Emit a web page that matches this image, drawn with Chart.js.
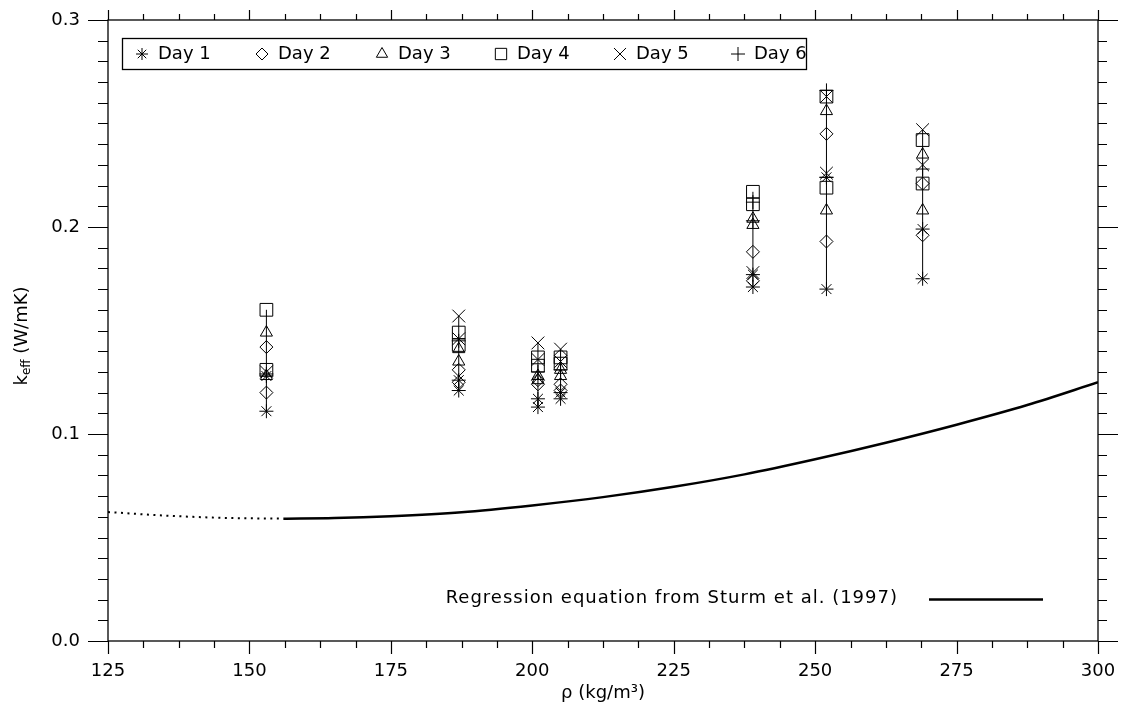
<!DOCTYPE html>
<html>
<head>
<meta charset="utf-8">
<script src="https://cdn.jsdelivr.net/npm/chart.js@4"></script>
<style>
  body { margin: 0; background: #fff; }
</style>
</head>
<body>
<canvas id="grafik" width="1124" height="709"></canvas>
<script>
// densities of the snow samples (kg/m3)
var rho = [153, 187, 201, 205, 239, 252, 269];

// two readings per density for each day (null = no second reading)
var day1 = [[0.111, 0.128], [0.121, 0.126], [0.113, 0.117], [0.117, 0.120], [0.171, 0.177], [0.170, 0.224], [0.175, 0.199]];
var day2 = [[0.120, 0.142], [0.125, 0.131], [0.124, 0.126], [0.121, 0.124], [0.174, 0.188], [0.193, 0.245], [0.196, 0.221]];
var day3 = [[0.128, 0.149], [0.135, 0.141], [0.126, 0.128], [0.128, 0.131], [0.201, 0.204], [0.208, 0.256], [0.208, 0.235]];
var day4 = [[0.131, 0.160], [0.143, 0.149], [0.133, 0.137], [0.134, 0.137], [0.211, 0.217], [0.219, 0.263], [0.221, 0.242]];
var day5 = [[0.130, null], [0.146, 0.157], [0.136, 0.144], [0.135, 0.141], [0.178, null], [0.226, 0.263], [0.230, 0.247]];
var day6 = [[0.129, null], [0.145, null], [0.130, null], [0.131, null], [0.203, 0.212], [0.224, 0.266], [0.228, null]];

var dayNames = ['Day 1', 'Day 2', 'Day 3', 'Day 4', 'Day 5', 'Day 6'];
var daySymbols = ['star', 'rectRot', 'triangle', 'rect', 'crossRot', 'cross'];
var daySizes = [7, 6.5, 7, 9, 9, 7];

// Sturm et al. (1997) curve
var regRhoDot = [125, 135, 145, 156];
var regKDot = [0.0623, 0.0606, 0.0595, 0.0591];
var regRho = [156, 165, 175, 187.5, 200, 212.5, 225, 237.5, 250, 262.5, 275, 287.5, 300];
var regK = [0.0591, 0.0594, 0.0603, 0.0622, 0.0655, 0.0695, 0.0745, 0.0805, 0.0878, 0.0958, 0.1045, 0.1140, 0.1250];

var xTickLabels = [125, 150, 175, 200, 225, 250, 275, 300];
var yTickLabels = ['0.0', '0.1', '0.2', '0.3'];

var font = '"DejaVu Sans", sans-serif';
var allDays = [day1, day2, day3, day4, day5, day6];

function dayPoints(day) {
  var pts = [];
  for (var i = 0; i < rho.length; i++) {
    for (var j = 0; j < 2; j++) {
      if (day[i][j] !== null) pts.push({x: rho[i], y: day[i][j]});
    }
  }
  return pts;
}

// vertical line from lowest to highest reading at each density
var rangePts = [];
for (var i = 0; i < rho.length; i++) {
  var vals = [];
  allDays.forEach(function(d) { d[i].forEach(function(v) { if (v !== null) vals.push(v); }); });
  rangePts.push({x: rho[i], y: Math.min.apply(null, vals)});
  rangePts.push({x: rho[i], y: Math.max.apply(null, vals)});
  rangePts.push({x: rho[i], y: null});
}

var datasets = [];
allDays.forEach(function(d, k) {
  datasets.push({
    type: 'scatter',
    label: dayNames[k],
    data: dayPoints(d),
    pointStyle: daySymbols[k],
    pointRadius: daySizes[k],
    pointBorderWidth: 1,
    pointBorderColor: '#000',
    pointBackgroundColor: 'rgba(0,0,0,0)',
    showLine: false
  });
});
datasets.push({
  type: 'line', label: 'range', data: rangePts, borderColor: '#000', borderWidth: 1,
  pointRadius: 0, spanGaps: false, fill: false
});
datasets.push({
  type: 'line', label: 'reg', data: regRho.map(function(r, i) { return {x: r, y: regK[i]}; }),
  borderColor: '#000', borderWidth: 2.5, pointRadius: 0, fill: false, cubicInterpolationMode: 'monotone'
});
datasets.push({
  type: 'line', label: 'regdot', data: regRhoDot.map(function(r, i) { return {x: r, y: regKDot[i]}; }),
  borderColor: '#000', borderWidth: 2, borderDash: [2, 4.5], pointRadius: 0, fill: false, cubicInterpolationMode: 'monotone'
});

function isMultiple(v, step) {
  var q = v / step;
  return Math.abs(q - Math.round(q)) < 1e-6;
}

// frame, tick marks, legend and the y title
var cizim = {
  id: 'cizim',
  afterDraw: function(chart) {
    var ctx = chart.ctx, a = chart.chartArea;
    var xs = chart.scales.x, ys = chart.scales.y;
    ctx.save();
    ctx.strokeStyle = '#000';
    ctx.lineWidth = 1.3;
    ctx.strokeRect(a.left, a.top, a.right - a.left, a.bottom - a.top);

    ctx.lineWidth = 1.2;
    ctx.beginPath();
    xs.ticks.forEach(function(t) {
      var px = Math.round(xs.getPixelForValue(t.value)) + 0.5;
      var major = t.label !== '';
      ctx.moveTo(px, a.bottom); ctx.lineTo(px, a.bottom + (major ? 13 : 7));
      ctx.moveTo(px, a.top); ctx.lineTo(px, a.top - (major ? 10 : 6));
    });
    ys.ticks.forEach(function(t) {
      var py = Math.round(ys.getPixelForValue(t.value)) + 0.5;
      var major = t.label !== '';
      ctx.moveTo(a.left, py); ctx.lineTo(a.left - (major ? 20 : 10), py);
      ctx.moveTo(a.right, py); ctx.lineTo(a.right + (major ? 20 : 9), py);
    });
    ctx.stroke();

    // legend box
    ctx.lineWidth = 1.3;
    ctx.strokeRect(122.5, 38.5, 684, 31);
    var lx = [142, 262, 382, 501, 620, 738];
    var lr = [6, 6, 6.5, 8, 8.5, 7];
    ctx.font = '18px ' + font;
    ctx.fillStyle = '#000';
    ctx.textBaseline = 'middle';
    ctx.textAlign = 'left';
    for (var k = 0; k < 6; k++) {
      ctx.strokeStyle = '#000';
      ctx.fillStyle = 'rgba(0,0,0,0)';
      ctx.lineWidth = 1;
      Chart.helpers.drawPoint(ctx, {pointStyle: daySymbols[k], radius: lr[k], borderWidth: 1, rotation: 0}, lx[k], 54);
      ctx.fillStyle = '#000';
      ctx.fillText(dayNames[k], lx[k] + 16, 54);
    }

    // regression key
    ctx.textAlign = 'right';
    ctx.letterSpacing = '1px';
    ctx.fillText('Regression equation from Sturm et al. (1997)', 898, 598);
    ctx.letterSpacing = '0px';
    ctx.lineWidth = 2.5;
    ctx.beginPath();
    ctx.moveTo(929, 599.5); ctx.lineTo(1043, 599.5);
    ctx.stroke();

    // y title with subscript
    ctx.translate(22, 336);
    ctx.rotate(-Math.PI / 2);
    ctx.textAlign = 'left';
    var big = '18px ' + font, small = '12px ' + font;
    ctx.font = big; var w1 = ctx.measureText('k').width;
    ctx.font = small; var w2 = ctx.measureText('eff').width;
    ctx.font = big; var w3 = ctx.measureText(' (W/mK)').width;
    var sx = -(w1 + w2 + w3) / 2;
    ctx.fillText('k', sx, 0);
    ctx.font = small; ctx.fillText('eff', sx + w1, 5);
    ctx.font = big; ctx.fillText(' (W/mK)', sx + w1 + w2, 0);
    ctx.restore();
  }
};

new Chart(document.getElementById('grafik'), {
  type: 'scatter',
  data: { datasets: datasets },
  options: {
    responsive: false,
    animation: false,
    devicePixelRatio: 1,
    layout: { padding: { left: 0, right: 26, top: 20, bottom: 0 } },
    plugins: { legend: { display: false }, tooltip: { enabled: false } },
    scales: {
      x: {
        type: 'linear', min: 125, max: 300,
        afterFit: function(s) { s.height = 68; s.paddingLeft = 0; s.paddingRight = 0; },
        grid: { display: false, drawTicks: false },
        border: { display: false },
        ticks: {
          stepSize: 6.25, autoSkip: false, maxRotation: 0, padding: 20,
          color: '#000', font: { family: font, size: 18 },
          callback: function(v) { return (isMultiple(v, 25) && xTickLabels.indexOf(Math.round(v)) >= 0) ? String(Math.round(v)) : ''; }
        },
        title: { display: true, text: 'ρ (kg/m³)', color: '#000', font: { family: font, size: 18 }, padding: { top: 0, bottom: 5 } }
      },
      y: {
        min: 0, max: 0.3,
        afterFit: function(s) { s.width = 108; s.paddingTop = 0; s.paddingBottom = 0; },
        grid: { display: false, drawTicks: false },
        border: { display: false },
        ticks: {
          stepSize: 0.01, autoSkip: false, padding: 28,
          color: '#000', font: { family: font, size: 18 },
          callback: function(v) { return isMultiple(v, 0.1) ? yTickLabels[Math.round(v * 10)] : ''; }
        }
      }
    }
  },
  plugins: [cizim]
});
</script>
</body>
</html>
